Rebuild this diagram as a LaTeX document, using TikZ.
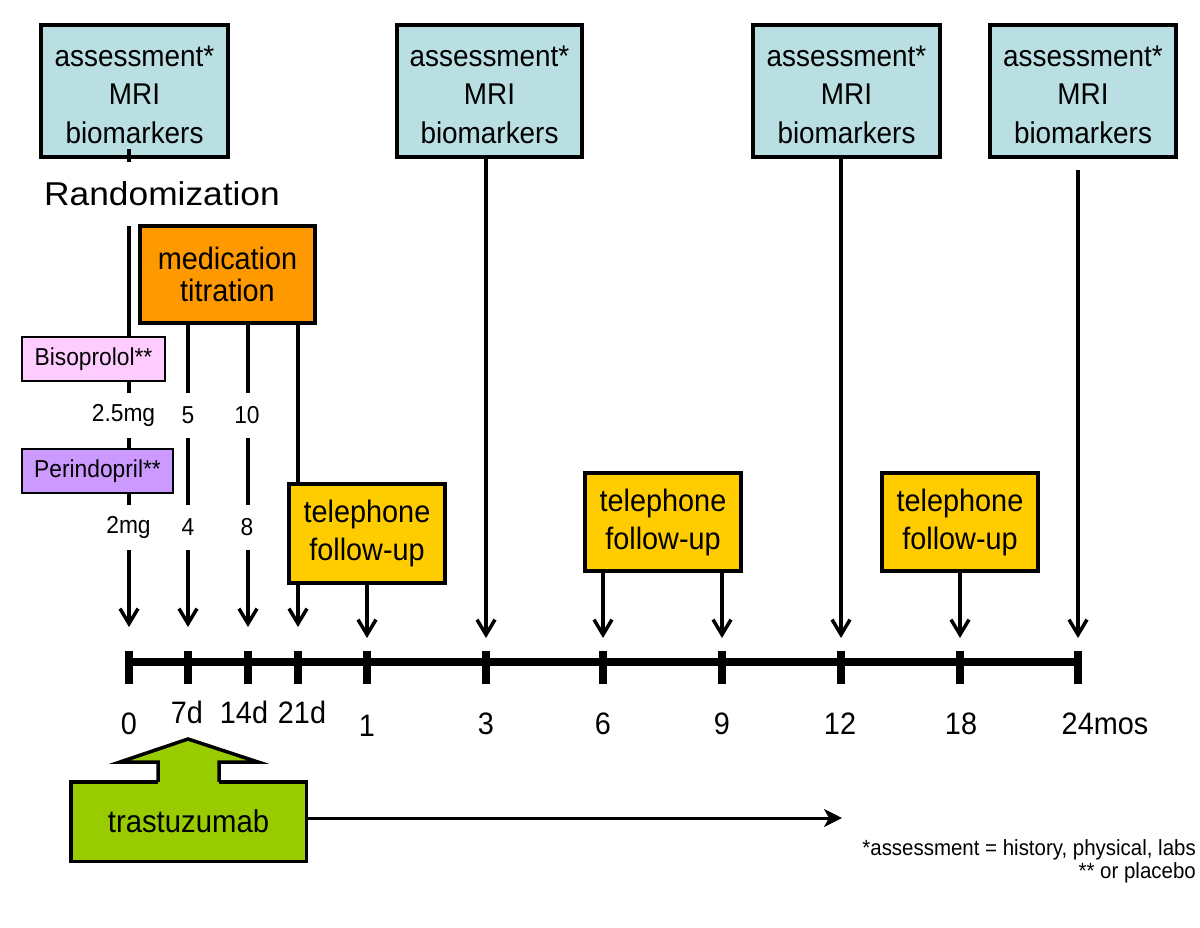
\documentclass[tikz,border=0pt]{standalone}
\usepackage{fontspec}
\setmainfont{Liberation Sans}[FakeStretch=0.93]
\newfontfamily\randfont{Liberation Sans}[FakeStretch=1.07]
\usetikzlibrary{arrows.meta}
\definecolor{asscol}{HTML}{B9DFE3}
\definecolor{titcol}{HTML}{FF9900}
\definecolor{telcol}{HTML}{FFCC00}
\definecolor{biscol}{HTML}{FFCCFF}
\definecolor{percol}{HTML}{CC99FF}
\definecolor{trascol}{HTML}{99CC00}
\begin{document}
\begin{tikzpicture}[x=1pt,y=-1pt,
  every node/.style={inner sep=0pt},
  assbox/.style={draw, line width=4pt, fill=asscol, minimum width=187pt, minimum height=132pt, align=center, font=\fontsize{30}{38.5}\selectfont},
  titbox/.style={draw, line width=4pt, fill=titcol, minimum width=175pt, minimum height=97pt, align=center, font=\fontsize{31}{32}\selectfont},
  telbox/.style={draw, line width=4pt, fill=telcol, minimum width=156pt, minimum height=99pt, align=center, font=\fontsize{31}{38}\selectfont},
  drugbox/.style={draw, line width=2pt, minimum height=44pt, font=\fontsize{24.5}{26}\selectfont},
  dose/.style={fill=white, minimum height=45pt, inner xsep=2pt, font=\fontsize{24.5}{26}\selectfont},
  vline/.style={line width=3.5pt},
  arr/.style={vline, -{Straight Barb[length=15pt,width=18pt]}},
  tickmark/.style={line width=8pt},
  ticklabel/.style={font=\fontsize{31}{32}\selectfont},
]
\useasboundingbox (0,0) rectangle (1200,927);

% timeline positions
\foreach \n/\x in {0/129, 7/188, 14/248, 21/298, 1/367, 3/486, 6/603, 9/722, 12/841, 18/960, 24/1078}
  \coordinate (m\n) at (\x,662);

\draw[line width=7.5pt] (m0) -- (m24);
\foreach \n in {0,7,14,21,1,3,6,9,12,18,24}
  \draw[tickmark] ([yshift=11pt]m\n) -- ([yshift=-22pt]m\n);

% assessment boxes
\node[assbox] (A1) at (134.5,91) {\rule{0pt}{28pt}assessment*\\MRI\\biomarkers};
\node[assbox, minimum width=185pt] (A2) at (489.5,91) {\rule{0pt}{28pt}assessment*\\MRI\\biomarkers};
\node[assbox] (A3) at (846.5,91) {\rule{0pt}{28pt}assessment*\\MRI\\biomarkers};
\node[assbox, minimum width=186pt] (A4) at (1083,91) {\rule{0pt}{28pt}assessment*\\MRI\\biomarkers};

% day-0 line, partly hidden by the labels drawn over it
\coordinate (A1b) at ([yshift=10pt]A1.south);
\draw[arr] (A1b -| m0) -- ([yshift=35pt]m0);
\node[font=\randfont\fontsize{33}{36}\selectfont, fill=white, minimum height=64pt] (rand) at (162,194) {Randomization};

% titration and telephone boxes
\node[titbox] (T) at (227.5,274.5) {medication\\titration};
\node[telbox] (P1) at (367,533.5) {telephone\\follow-up};
\node[telbox, minimum height=98pt] (P2) at (663,522) {telephone\\follow-up};
\node[telbox, minimum height=98pt] (P3) at (960,522) {telephone\\follow-up};

% connectors
\draw[arr] (T.south -| m7) -- ([yshift=35pt]m7);
\draw[arr] (T.south -| m14) -- ([yshift=35pt]m14);
\draw[vline] (T.south -| m21) -- (P1.north -| m21);
\draw[arr] (P1.south -| m21) -- ([yshift=35pt]m21);
\draw[arr] (P1.south -| m1) -- ([yshift=24pt]m1);
\draw[arr] (A2.south -| m3) -- ([yshift=24pt]m3);
\draw[arr] (P2.south -| m6) -- ([yshift=24pt]m6);
\draw[arr] (P2.south -| m9) -- ([yshift=24pt]m9);
\draw[arr] (A3.south -| m12) -- ([yshift=24pt]m12);
\draw[arr] (P3.south -| m18) -- ([yshift=24pt]m18);
\coordinate (A4b) at ([yshift=-11pt]A4.south);
\draw[arr] (A4b -| m24) -- ([yshift=24pt]m24);

% drugs and doses
\node[drugbox, fill=biscol, minimum width=143pt] (bis) at (93.5,359) {Bisoprolol**};
\node[drugbox, fill=percol, minimum width=151pt] (per) at (97.5,471) {Perindopril**};
\node[dose] (d1) at (123.5,415.5) {2.5mg};
\node[dose] (d2) at (188,415.5) {5};
\node[dose] (d3) at (247,415.5) {10};
\node[dose] (d4) at (128.5,527.5) {2mg};
\node[dose] (d5) at (188,527.5) {4};
\node[dose] (d6) at (247,527.5) {8};

% tick labels
\node[ticklabel] (l0) at (129,724) {0};
\node[ticklabel] (l7) at (187,712) {7d};
\node[ticklabel] (l14) at (244,712) {14d};
\node[ticklabel] (l21) at (302,712) {21d};
\node[ticklabel] (l1) at (367,726) {1};
\node[ticklabel] (l3) at (486,724) {3};
\node[ticklabel] (l6) at (603,724) {6};
\node[ticklabel] (l9) at (722,724) {9};
\node[ticklabel] (l12) at (840,724) {12};
\node[ticklabel] (l18) at (961,724) {18};
\node[ticklabel] (l24) at (1105,724) {24mos};

% trastuzumab
\node[draw, line width=3.5pt, fill=trascol, minimum width=235.5pt, minimum height=79.5pt, font=\fontsize{31.5}{32}\selectfont] (tr) at (188.5,821.5) {trastuzumab};
\fill[trascol] (158,784) -- (158,762) -- (120,762) -- (188,739) -- (258,762) -- (219,762) -- (219,784) -- cycle;
\draw[line width=3.5pt, line join=miter] (158,781.75) -- (158,762) -- (120,762) -- (188,739) -- (258,762) -- (219,762) -- (219,781.75);
\coordinate (trEnd) at (842,818);
\draw[line width=3pt, -{Stealth[length=18pt,width=18pt,inset=5pt]}] ([yshift=3.5pt]tr.east) -- (trEnd);

% notes
\node[anchor=base east, font=\fontsize{22}{24}\selectfont] (n1) at (1196,855) {*assessment = history, physical, labs};
\node[anchor=base east, font=\fontsize{22}{24}\selectfont] (n2) at (1196,878) {** or placebo};
\end{tikzpicture}
\end{document}
